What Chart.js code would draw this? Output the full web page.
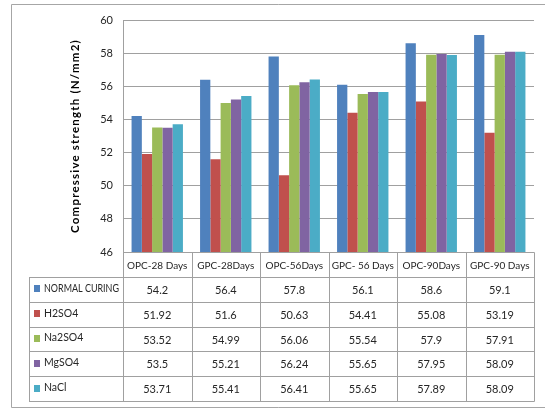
<!DOCTYPE html>
<html>
<head>
<meta charset="utf-8">
<script src="https://cdn.jsdelivr.net/npm/chart.js@4/dist/chart.umd.min.js"></script>
<style>
  html, body { margin: 0; padding: 0; background: #fff; }
  #wrap { width: 545px; height: 409px; position: relative; }
</style>
</head>
<body>
<div id="wrap"><canvas id="c" width="545" height="409"></canvas></div>
<script>
const categories = ['OPC-28 Days', 'GPC-28Days', 'OPC-56Days', 'GPC- 56 Days', 'OPC-90Days', 'GPC-90 Days'];
const seriesNames = ['NORMAL CURING', 'H2SO4', 'Na2SO4', 'MgSO4', 'NaCl'];
const normalCuring = [54.2, 56.4, 57.8, 56.1, 58.6, 59.1];
const h2so4 = [51.92, 51.6, 50.63, 54.41, 55.08, 53.19];
const na2so4 = [53.52, 54.99, 56.06, 55.54, 57.9, 57.91];
const mgso4 = [53.5, 55.21, 56.24, 55.65, 57.95, 58.09];
const nacl = [53.71, 55.41, 56.41, 55.65, 57.89, 58.09];
const yMin = 46, yMax = 60, yStep = 2;
const yTitle = 'Compressive strength (N/mm2)';

const colors = ['#4F81BD', '#C0504D', '#9BBB59', '#8064A2', '#4BACC6'];
const seriesData = [normalCuring, h2so4, na2so4, mgso4, nacl];
const FONT = "Lato, 'Open Sans', sans-serif";
const GRID = '#a0a0a0';
const TXT = '#262626';

const tablePlugin = {
  id: 'dataTable',
  afterDraw(chart) {
    const ctx = chart.ctx;
    const x = chart.scales.x;
    const area = chart.chartArea;
    const n = categories.length;
    const colW = (area.right - area.left) / n;
    const rowH = 24.85;
    const top = area.bottom;
    const labelLeft = 29;
    const rows = seriesNames.length;
    const bottom = top + rowH * (rows + 1);
    ctx.save();
    // outer frame
    ctx.strokeStyle = '#a6a6a6';
    ctx.lineWidth = 1;
    ctx.beginPath();
    ctx.moveTo(545, 4.5); ctx.lineTo(11.5, 4.5); ctx.lineTo(11.5, 407.5); ctx.lineTo(545, 407.5);
    ctx.stroke();
    // y axis title
    ctx.save();
    ctx.translate(75, (area.top + area.bottom) / 2);
    ctx.rotate(-Math.PI / 2);
    ctx.fillStyle = '#000';
    ctx.font = 'bold 11.5px ' + FONT;
    ctx.letterSpacing = '1.2px';
    ctx.textAlign = 'center';
    ctx.textBaseline = 'middle';
    ctx.fillText(yTitle, 0, 0);
    ctx.restore();
    // table grid
    ctx.strokeStyle = GRID;
    ctx.beginPath();
    for (let r = 0; r <= rows + 1; r++) {
      const yy = Math.round(top + r * rowH) + 0.5;
      const xl = r === 0 ? area.left : labelLeft;
      ctx.moveTo(xl, yy); ctx.lineTo(Math.round(area.right) + 0.5, yy);
    }
    ctx.moveTo(labelLeft + 0.5, Math.round(top + rowH) + 0.5); ctx.lineTo(labelLeft + 0.5, Math.round(bottom) + 0.5);
    for (let i = 0; i <= n; i++) {
      const xx = Math.round(area.left + i * colW) + 0.5;
      ctx.moveTo(xx, Math.round(top) + 0.5); ctx.lineTo(xx, Math.round(bottom) + 0.5);
    }
    ctx.stroke();
    // header
    ctx.fillStyle = TXT;
    ctx.font = '10px ' + FONT;
    ctx.textAlign = 'center';
    ctx.textBaseline = 'middle';
    for (let i = 0; i < n; i++) {
      ctx.fillText(categories[i], x.getPixelForValue(i), top + rowH / 2 + 1);
    }
    // rows
    for (let r = 0; r < rows; r++) {
      const cy = top + rowH * (r + 1) + rowH / 2;
      ctx.fillStyle = colors[r];
      ctx.fillRect(34, Math.round(cy - 4), 6, 7);
      ctx.fillStyle = TXT;
      ctx.textAlign = 'left';
      ctx.font = '10.5px ' + FONT;
      ctx.fillText(seriesNames[r], 44, cy - 1, 75);
      ctx.textAlign = 'center';
      ctx.font = '11px ' + FONT;
      for (let i = 0; i < n; i++) {
        ctx.fillText(String(seriesData[r][i]), x.getPixelForValue(i), cy + 1);
      }
    }
    ctx.restore();
  }
};

new Chart(document.getElementById('c'), {
  type: 'bar',
  data: {
    labels: categories,
    datasets: seriesNames.map((name, k) => ({
      label: name,
      data: seriesData[k],
      backgroundColor: colors[k],
      borderWidth: 0,
      categoryPercentage: 0.75,
      barPercentage: 1.0
    }))
  },
  options: {
    responsive: false,
    animation: false,
    devicePixelRatio: 1,
    layout: { padding: { left: 0, right: 11, top: 20, bottom: 157 } },
    plugins: { legend: { display: false }, tooltip: { enabled: false } },
    scales: {
      x: { display: false },
      y: {
        min: yMin, max: yMax,
        afterFit(s) { s.width = 123; },
        ticks: { stepSize: yStep, padding: 10, color: TXT, font: { family: FONT, size: 11 } },
        grid: { color: GRID, drawTicks: false },
        border: { color: GRID },
        title: { display: false }
      }
    }
  },
  plugins: [tablePlugin]
});
</script>
</body>
</html>
